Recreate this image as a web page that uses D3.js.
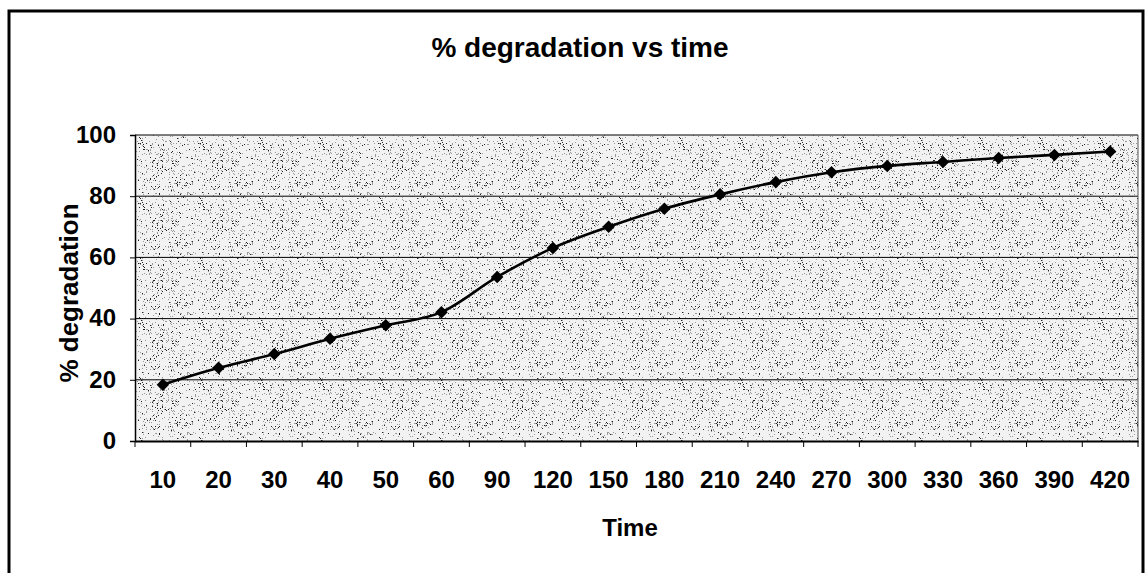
<!DOCTYPE html>
<html lang="en">
<head>
<meta charset="UTF-8">
<title>% degradation vs time</title>
<script src="https://d3js.org/d3.v7.min.js"></script>
<style>
  body { margin: 0; background: #fff; }
  svg text { font-family: "Liberation Sans", Arial, sans-serif; font-weight: bold; fill: #000; }
</style>
</head>
<body>
<script>
// data
const times = ["10", "20", "30", "40", "50", "60", "90", "120", "150", "180", "210", "240", "270", "300", "330", "360", "390", "420"];
const degradation = [18.4, 23.9, 28.4, 33.4, 37.8, 42.1, 53.6, 63.1, 70.0, 75.9, 80.6, 84.6, 87.8, 89.9, 91.2, 92.5, 93.5, 94.6];
const yTicks = [0, 20, 40, 60, 80, 100];

const width = 1147, height = 573;
const plot = { left: 135, top: 135, right: 1138, bottom: 441 };

const svg = d3.select("body").append("svg").attr("width", width).attr("height", height);

// stipple pattern for the plot area (decoration only)
const defs = svg.append("defs");
const pat = defs.append("pattern").attr("id", "stipple")
  .attr("width", 60).attr("height", 60).attr("patternUnits", "userSpaceOnUse");
pat.append("rect").attr("width", 60).attr("height", 60).attr("fill", "#f2f2f2");
let seed = 7;
function rnd() { seed = (seed * 16807) % 2147483647; return seed / 2147483647; }
for (let i = 0; i < 420; i++) {
  pat.append("rect").attr("x", Math.floor(rnd() * 60)).attr("y", Math.floor(rnd() * 60))
    .attr("width", 1).attr("height", 1)
    .attr("fill", rnd() < 0.3 ? "#222" : "#999");
}

// outer frame
svg.append("rect").attr("x", 9).attr("y", 11).attr("width", 1134).attr("height", 580)
  .attr("fill", "none").attr("stroke", "#000").attr("stroke-width", 3);

const x = d3.scaleBand().domain(times).range([plot.left, plot.right]);
const y = d3.scaleLinear().domain([0, 100]).range([plot.bottom, plot.top]);

svg.append("rect").attr("x", plot.left).attr("y", plot.top)
  .attr("width", plot.right - plot.left).attr("height", plot.bottom - plot.top)
  .attr("fill", "url(#stipple)");

// gridlines
svg.append("g").selectAll("line").data(yTicks.slice(1)).join("line")
  .attr("x1", plot.left).attr("x2", plot.right)
  .attr("y1", d => y(d)).attr("y2", d => y(d))
  .attr("stroke", "#000").attr("stroke-width", 1);

// plot border (right side grey)
svg.append("line").attr("x1", plot.right).attr("x2", plot.right)
  .attr("y1", plot.top).attr("y2", plot.bottom).attr("stroke", "#555");

// y axis
const yAxis = svg.append("g").attr("transform", `translate(${plot.left},0)`)
  .call(d3.axisLeft(y).tickValues(yTicks).tickSize(5).tickPadding(14));
yAxis.select(".domain").attr("stroke-width", 1.5);
yAxis.selectAll("text").attr("font-size", 24).attr("dy", "0.3em");

// x axis with ticks between categories
const xAxis = svg.append("g").attr("transform", `translate(0,${plot.bottom})`)
  .call(d3.axisBottom(x).tickSize(0).tickPadding(30));
xAxis.select(".domain").attr("stroke-width", 2);
xAxis.selectAll("text").attr("font-size", 24);
xAxis.selectAll(".sep").data(times.concat([null])).join("line")
  .attr("class", "sep")
  .attr("x1", (d, i) => plot.left + i * x.step()).attr("x2", (d, i) => plot.left + i * x.step())
  .attr("y1", 0).attr("y2", 6).attr("stroke", "#000");

// line and markers
const pts = times.map((t, i) => [x(t) + x.bandwidth() / 2, y(degradation[i])]);
svg.append("path").datum(pts)
  .attr("d", d3.line().curve(d3.curveMonotoneX))
  .attr("fill", "none").attr("stroke", "#000").attr("stroke-width", 2.6);
svg.append("g").selectAll("path").data(pts).join("path")
  .attr("transform", d => `translate(${d[0]},${d[1]})`)
  .attr("d", d3.symbol(d3.symbolDiamond2, 100))
  .attr("fill", "#000");

// titles
svg.append("text").attr("x", 580).attr("y", 57).attr("text-anchor", "middle")
  .attr("font-size", 28).text("% degradation vs time");
svg.append("text").attr("transform", "translate(78,293) rotate(-90)")
  .attr("text-anchor", "middle").attr("font-size", 26).text("% degradation");
svg.append("text").attr("x", 630).attr("y", 536).attr("text-anchor", "middle")
  .attr("font-size", 24).text("Time");
</script>
</body>
</html>
